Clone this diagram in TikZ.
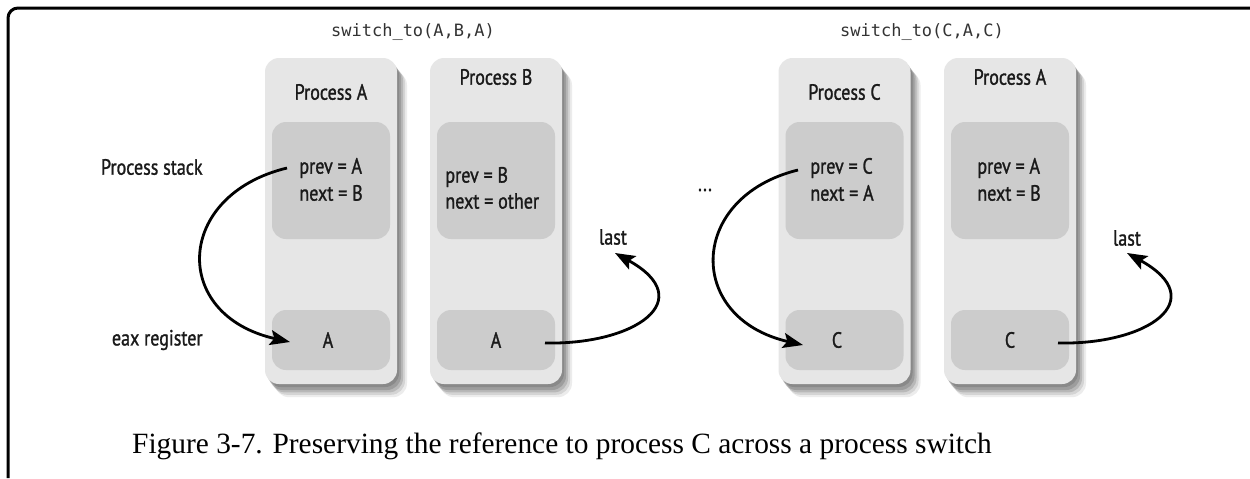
\documentclass[tikz,border=0pt]{standalone}
\usepackage{fontspec}
\setmainfont{Liberation Serif}
\newfontfamily\lblfont[FakeStretch=0.82,FakeBold=1.2]{PT Sans}
\newfontfamily\codefont{DejaVu Sans Mono}
\usetikzlibrary{arrows.meta,shadows,calc}
\definecolor{outerg}{HTML}{E6E6E6}
\definecolor{innerg}{HTML}{CCCCCC}
\definecolor{txt}{HTML}{1A1A1A}
\definecolor{codec}{HTML}{333333}
\begin{document}
\begin{tikzpicture}[x=0.5pt,y=-0.5pt,
  outerbox/.style={fill=outerg, rounded corners=7pt, minimum width=66pt, minimum height=163pt, inner sep=0pt,
    drop shadow={shadow xshift=1pt,shadow yshift=-1.5pt,opacity=.25,fill=black!70},
    drop shadow={shadow xshift=2pt,shadow yshift=-3pt,opacity=.25,fill=black!70},
    drop shadow={shadow xshift=3pt,shadow yshift=-4.2pt,opacity=.2,fill=black!70},
    drop shadow={shadow xshift=4pt,shadow yshift=-5.4pt,opacity=.15,fill=black!70},
    drop shadow={shadow xshift=5pt,shadow yshift=-6.6pt,opacity=.1,fill=black!70}},
  innertop/.style={fill=innerg, rounded corners=7pt, minimum width=59pt, minimum height=58.5pt, inner sep=0pt},
  innerbot/.style={fill=innerg, rounded corners=7pt, minimum width=59pt, minimum height=30pt, inner sep=0pt},
  lbl/.style={font=\lblfont\fontsize{11}{13}\selectfont, text=txt, inner sep=1pt},
  code/.style={font=\codefont\fontsize{8.5}{10}\selectfont, text=codec, inner sep=1pt},
  arr/.style={-{Stealth[length=10pt,width=7.5pt,inset=2pt]}, line width=1.4pt, black}
]
\useasboundingbox (0,0) rectangle (1250,478);
\fill[white] (0,0) rectangle (1250,478);
% frame
\draw[line width=1.5pt, rounded corners=5pt] (8,478) -- (8,8) -- (1250,8);

% titles
\node[code] (swA) at (413,32) {switch\_to(A,B,A)};
\node[code] (swC) at (922,32) {switch\_to(C,A,C)};

% outer boxes
\node[outerbox] (bA1) at (331,221) {};
\node[outerbox] (bB)  at (496,221) {};
\node[outerbox] (bC)  at (844.5,221) {};
\node[outerbox] (bA2) at (1010,221) {};

% inner boxes
\node[innertop] (iA1) at (331,180.5) {};
\node[innertop] (iB)  at (496,180.5) {};
\node[innertop] (iC)  at (844.5,180.5) {};
\node[innertop] (iA2) at (1010,180.5) {};
\node[innerbot] (jA1) at (331,340) {};
\node[innerbot] (jB)  at (496,340) {};
\node[innerbot] (jC)  at (844.5,340) {};
\node[innerbot] (jA2) at (1010,340) {};

% process titles
\node[lbl] (tA1) at (331,92) {Process A};
\node[lbl] (tB)  at (496,77) {Process B};
\node[lbl] (tC)  at (844.5,92) {Process C};
\node[lbl] (tA2) at (1010,77) {Process A};

% prev/next
\node[lbl,anchor=west] (pA1) at (297,168) {prev = A};
\node[lbl,anchor=west] (nA1) at (297,193) {next = B};
\node[lbl,anchor=west] (pB)  at (443,177) {prev = B};
\node[lbl,anchor=west] (nB)  at (443,201) {next = other};
\node[lbl,anchor=west] (pC)  at (808,168) {prev = C};
\node[lbl,anchor=west] (nC)  at (808,193) {next = A};
\node[lbl,anchor=west] (pA2) at (975,168) {prev = A};
\node[lbl,anchor=west] (nA2) at (975,193) {next = B};

% register values
\node[lbl] (vA1) at (328,340) {A};
\node[lbl] (vB)  at (496,340) {A};
\node[lbl] (vC)  at (837,340) {C};
\node[lbl] (vA2) at (1010,340) {C};

% side labels
\node[lbl,anchor=east] (ps) at (205,167) {Process stack};
\node[lbl,anchor=east] (eax) at (205,340) {eax register};
\node[lbl] (dots) at (705,190) {...};
\node[lbl] (lastB) at (613,237) {last};
\node[lbl] (lastA2) at (1127,238) {last};

% arrows
\draw[arr] ($(pA1.west)+(-10,0)$) .. controls ($(pA1.west)+(-122,27)$) and ($(vA1.center)+(-158,-25)$) .. ($(vA1.center)+(-38,2)$);
\draw[arr] ($(pC.west)+(-10,2)$) .. controls ($(pC.west)+(-120,29)$) and ($(vC.center)+(-152,-22)$) .. ($(vC.center)+(-34,5)$);
\draw[arr] ($(vB.center)+(49,3)$) .. controls ($(vB.center)+(139,5)$) and ($(lastB.center)+(87,63)$) .. ($(lastB.center)+(2,16)$);
\draw[arr] ($(vA2.center)+(48,3)$) .. controls ($(vA2.center)+(138,5)$) and ($(lastA2.center)+(85,62)$) .. ($(lastA2.center)+(0,15)$);

% caption
\node[font=\fontsize{14.7}{17}\selectfont, anchor=base, inner sep=0pt] (cap) at (562,453) {Figure 3-7. Preserving the reference to process C across a process switch};
\end{tikzpicture}
\end{document}
